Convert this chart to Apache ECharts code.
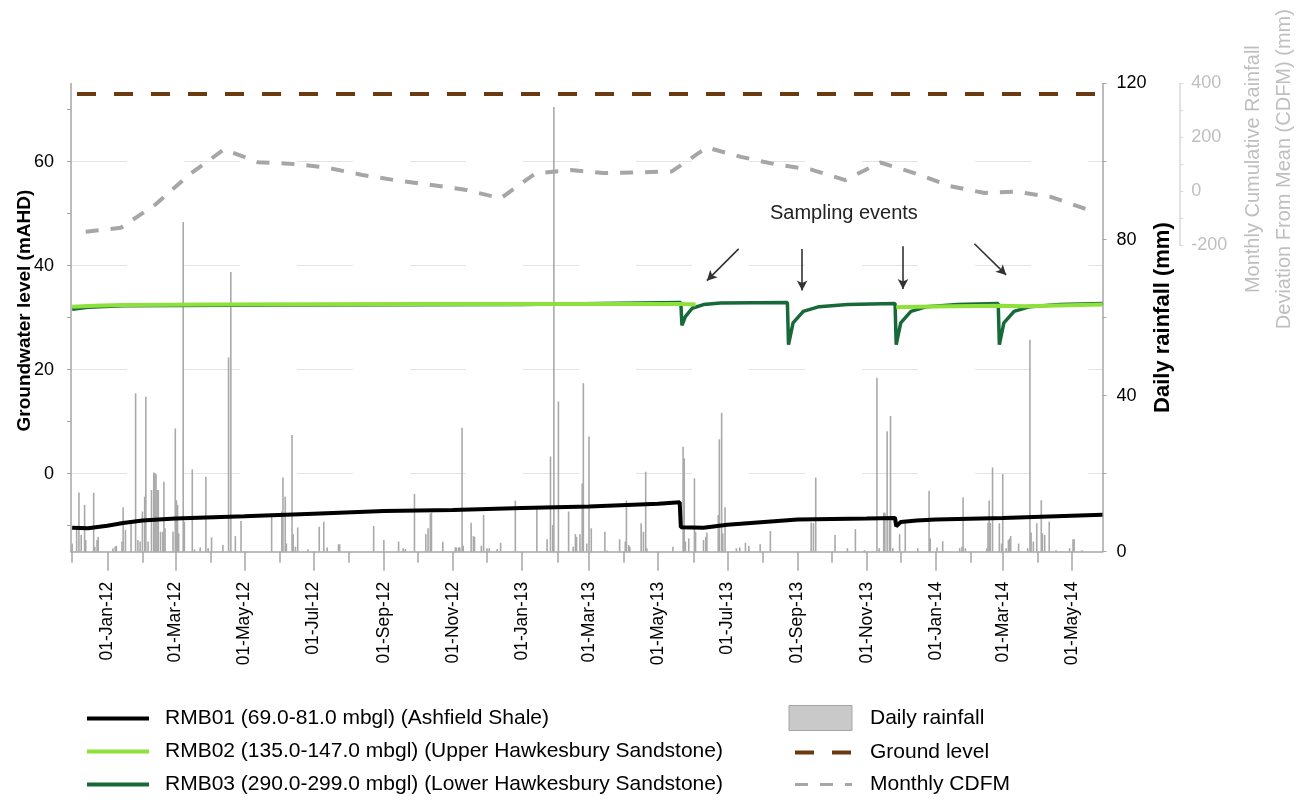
<!DOCTYPE html>
<html><head><meta charset="utf-8">
<script src="https://cdn.jsdelivr.net/npm/echarts@6/dist/echarts.min.js"></script>
<style>html,body{margin:0;padding:0;background:#fff}#c{width:1299px;height:801px}</style>
</head><body><div id="c"></div>
<script>
// ---------- data ----------
const axisStart = '2011-11-30';
const axisEnd = '2014-05-28';
const labelMonths = ['2012-01-01','2012-03-01','2012-05-01','2012-07-01','2012-09-01','2012-11-01','2013-01-01','2013-03-01','2013-05-01','2013-07-01','2013-09-01','2013-11-01','2014-01-01','2014-03-01','2014-05-01'];
const minorMonths = ['2011-12-01','2012-02-01','2012-04-01','2012-06-01','2012-08-01','2012-10-01','2012-12-01','2013-02-01','2013-04-01','2013-06-01','2013-08-01','2013-10-01','2013-12-01','2014-02-01','2014-04-01'];
const levelTicks = [-10,0,10,20,30,40,50,60,70];
const levelLabels = [0,20,40,60];
const levelGrid = [0,20,40,60];
const rainLabels = [0,40,80,120];
const cdfmLabels = [-200,0,200,400];

const rmb01 = [['2011-12-01',-10.4],['2011-12-15',-10.5],['2012-01-01',-10.0],['2012-01-15',-9.5],['2012-02-01',-9.0],['2012-03-01',-8.6],['2012-05-01',-8.2],['2012-07-01',-7.7],['2012-09-01',-7.2],['2012-11-01',-7.0],['2013-01-01',-6.6],['2013-03-01',-6.3],['2013-05-01',-5.8],['2013-05-20',-5.5],['2013-05-21',-10.3],['2013-06-10',-10.4],['2013-07-01',-9.8],['2013-09-01',-8.8],['2013-11-01',-8.6],['2013-11-26',-8.5],['2013-11-27',-10.1],['2013-12-01',-9.3],['2013-12-15',-9.0],['2014-01-01',-8.8],['2014-03-01',-8.5],['2014-05-28',-7.9]];

const rmb02 = [['2011-12-01',32.1],['2011-12-20',32.3],['2012-01-15',32.4],['2012-04-01',32.5],['2012-10-01',32.6],['2013-03-01',32.6],['2013-05-21',32.6],['2013-06-03',32.5],['2013-06-04',null],['2013-11-26',null],['2013-11-27',32.0],['2013-12-15',32.1],['2014-01-15',32.2],['2014-02-25',32.3],['2014-02-26',32.1],['2014-03-20',32.2],['2014-05-28',32.5]];

const rmb03 = [['2011-12-01',31.6],['2011-12-15',32.0],['2012-01-15',32.3],['2012-06-01',32.4],['2013-01-01',32.5],['2013-04-15',32.8],['2013-05-21',32.9],['2013-05-22',28.5],['2013-05-25',30.2],['2013-05-31',31.8],['2013-06-10',32.5],['2013-06-25',32.8],['2013-08-23',32.9],['2013-08-24',24.8],['2013-08-28',29.0],['2013-09-06',31.2],['2013-09-20',32.1],['2013-10-15',32.5],['2013-11-26',32.7],['2013-11-27',24.8],['2013-12-01',29.0],['2013-12-10',31.2],['2013-12-24',32.1],['2014-01-20',32.5],['2014-02-25',32.7],['2014-02-26',24.8],['2014-03-02',29.0],['2014-03-11',31.2],['2014-03-25',32.1],['2014-04-20',32.5],['2014-05-28',32.7]];

const groundLevel = [['2011-11-30',73.0],['2014-05-28',73.0]];

const cdfm = [['2011-12-13',-151],['2012-01-13',-136],['2012-02-13',-48],['2012-03-13',60],['2012-04-13',155],['2012-05-13',107],['2012-06-13',101],['2012-07-13',87],['2012-08-13',60],['2012-09-13',39],['2012-10-13',23],['2012-11-13',4],['2012-12-13',-27],['2013-01-13',66],['2013-02-13',78],['2013-03-13',67],['2013-04-13',69],['2013-05-13',73],['2013-06-13',162],['2013-07-13',127],['2013-08-13',99],['2013-09-13',80],['2013-10-13',41],['2013-11-13',106],['2013-12-13',67],['2014-01-13',19],['2014-02-13',-7],['2014-03-13',-2],['2014-04-13',-22],['2014-05-13',-66]];

const rainfall = [['2011-12-01',2.1],['2011-12-05',5.6],['2011-12-07',15.2],['2011-12-09',4.3],['2011-12-12',12.0],['2011-12-13',3.0],['2011-12-20',15.1],['2011-12-21',1.3],['2011-12-23',3.0],['2011-12-24',3.8],
['2012-01-06',0.9],['2012-01-08',1.3],['2012-01-09',1.5],['2012-01-14',2.6],['2012-01-15',11.4],['2012-01-17',5.6],['2012-01-22',7.3],['2012-01-26',40.6],['2012-01-28',3.0],['2012-01-30',2.6],
['2012-02-01',10.3],['2012-02-03',14.1],['2012-02-04',39.7],['2012-02-06',2.6],['2012-02-09',15.8],['2012-02-11',20.3],['2012-02-12',20.1],['2012-02-13',19.9],['2012-02-14',15.8],['2012-02-15',15.8],['2012-02-17',5.1],['2012-02-19',5.1],['2012-02-20',17.9],['2012-02-21',6.0],['2012-02-28',5.1],
['2012-03-01',31.6],['2012-03-02',13.2],['2012-03-03',12.0],['2012-03-04',4.7],['2012-03-08',84.5],['2012-03-09',7.7],['2012-03-16',21.1],['2012-03-18',0.6],['2012-03-23',1.1],['2012-03-28',19.2],['2012-03-30',0.9],
['2012-04-02',3.7],['2012-04-12',1.7],['2012-04-17',49.8],['2012-04-19',71.7],['2012-04-23',4.0],['2012-04-28',7.9],['2012-05-25',9.0],
['2012-06-03',10.3],['2012-06-04',19.0],['2012-06-06',14.1],['2012-06-07',2.1],['2012-06-12',29.9],['2012-06-13',4.5],['2012-06-15',1.3],['2012-06-17',6.2],['2012-06-26',0.6],
['2012-07-06',6.4],['2012-07-10',7.7],['2012-07-13',1.1],['2012-07-23',1.9],['2012-07-24',1.9],['2012-08-23',6.6],
['2012-09-01',3.0],['2012-09-14',2.6],['2012-09-18',0.9],['2012-09-20',0.7],['2012-09-28',14.8],
['2012-10-08',4.5],['2012-10-10',6.0],['2012-10-12',9.8],['2012-10-13',10.0],['2012-10-23',2.6],
['2012-11-03',1.1],['2012-11-04',1.1],['2012-11-06',1.1],['2012-11-07',1.1],['2012-11-09',31.8],['2012-11-10',1.5],['2012-11-17',7.4],['2012-11-19',4.0],['2012-11-20',3.8],['2012-11-26',1.5],['2012-11-28',9.4],
['2012-12-01',0.9],['2012-12-03',0.9],['2012-12-10',0.7],['2012-12-13',2.3],['2012-12-26',13.1],
['2013-01-14',11.1],['2013-01-23',3.2],['2013-01-26',24.4],['2013-01-28',6.8],['2013-01-29',114.0],
['2013-02-02',38.5],['2013-02-11',10.3],['2013-02-15',1.3],['2013-02-17',4.5],['2013-02-18',3.8],['2013-02-21',4.5],['2013-02-23',17.5],['2013-02-24',43.2],['2013-02-27',2.1],
['2013-03-01',29.5],['2013-03-03',6.0],['2013-03-15',5.1],['2013-03-17',0.3],['2013-03-28',3.2],
['2013-04-02',2.6],['2013-04-03',13.1],['2013-04-05',1.7],['2013-04-06',1.3],['2013-04-16',7.3],['2013-04-18',5.1],['2013-04-20',20.5],['2013-04-21',0.9],
['2013-05-14',1.3],['2013-05-23',26.9],['2013-05-24',23.9],['2013-05-25',2.6],['2013-05-28',3.4],
['2013-06-02',18.8],['2013-06-03',5.1],['2013-06-10',3.0],['2013-06-12',3.8],['2013-06-13',4.9],['2013-06-23',9.4],['2013-06-24',28.8],['2013-06-26',35.6],['2013-06-27',4.7],['2013-06-29',11.4],
['2013-07-09',0.9],['2013-07-12',1.1],['2013-07-17',2.3],['2013-07-20',1.5],['2013-07-30',1.9],['2013-08-08',5.3],
['2013-09-13',7.4],['2013-09-15',7.3],['2013-09-17',19.0],['2013-10-04',4.3],['2013-10-15',0.9],['2013-10-22',5.8],['2013-10-30',0.4],
['2013-11-10',44.6],['2013-11-12',0.9],['2013-11-16',10.0],['2013-11-17',10.0],['2013-11-19',30.9],['2013-11-21',8.1],['2013-11-22',34.8],['2013-11-24',0.9],['2013-11-30',4.5],
['2013-12-05',7.3],['2013-12-16',0.9],['2013-12-26',15.6],['2013-12-27',3.4],
['2014-01-02',1.1],['2014-01-07',2.7],['2014-01-22',0.9],['2014-01-24',1.3],['2014-01-25',13.9],['2014-01-27',0.9],
['2014-02-15',0.9],['2014-02-16',7.4],['2014-02-17',13.1],['2014-02-18',7.4],['2014-02-20',21.6],['2014-02-26',7.3],['2014-02-28',2.1],
['2014-03-01',19.9],['2014-03-04',0.9],['2014-03-06',3.0],['2014-03-07',3.4],['2014-03-08',4.0],['2014-03-15',2.1],['2014-03-23',0.9],['2014-03-25',54.3],['2014-03-26',4.9],['2014-03-28',2.6],['2014-03-31',7.3],
['2014-04-04',13.2],['2014-04-05',4.7],['2014-04-07',4.3],['2014-04-11',7.7],['2014-04-17',0.4],['2014-04-29',0.9],
['2014-05-02',3.2],['2014-05-03',3.2],['2014-05-10',0.4]];

// sampling-event annotation arrows: [fromDate, fromLevel, toDate, toLevel]
const samplingArrows = [['2013-07-11',43.2,'2013-06-13',37.1],['2013-09-05',43.2,'2013-09-05',35.2],['2013-12-03',43.7,'2013-12-03',35.5],['2014-02-04',44.2,'2014-03-04',38.2]];

// ---------- helpers ----------
const MON = ['Jan','Feb','Mar','Apr','May','Jun','Jul','Aug','Sep','Oct','Nov','Dec'];
function ts(s){ const p = s.split('-').map(Number); return Date.UTC(p[0], p[1]-1, p[2]); }
function pts(arr){ return arr.map(d => [ts(d[0]), d[1]]); }
function fmtDate(v){ const d = new Date(v); return String(d.getUTCDate()).padStart(2,'0') + '-' + MON[d.getUTCMonth()] + '-' + String(d.getUTCFullYear()).slice(2); }

const FONT = 'Liberation Sans, Arial, sans-serif';
const AX = '#a6a6a6';
const N1 = 'RMB01 (69.0-81.0 mbgl) (Ashfield Shale)';
const N2 = 'RMB02 (135.0-147.0 mbgl) (Upper Hawkesbury Sandstone)';
const N3 = 'RMB03 (290.0-299.0 mbgl) (Lower Hawkesbury Sandstone)';

const chart = echarts.init(document.getElementById('c'), null, {renderer:'canvas'});
const xmin = ts(axisStart), xmax = ts(axisEnd);

chart.setOption({
  animation: false,
  textStyle: {fontFamily: FONT},
  grid: [
    {left: 71, right: 196.5, top: 83.5, height: 468.2, containLabel:false, outerBoundsMode:'none'},
    {left: 71, right: 196.5, top: 83.3, height: 161.7, containLabel:false, outerBoundsMode:'none'}
  ],
  xAxis: [
    {type:'value', gridIndex:0, min:xmin, max:xmax, scale:true,
     axisLine:{show:true, onZero:false, lineStyle:{color:AX, width:1.5}},
     axisTick:{show:true, customValues: minorMonths.map(ts), length:11, lineStyle:{color:AX, width:1.5}},
     axisLabel:{show:false}, splitLine:{show:false}},
    {type:'value', gridIndex:0, min:xmin, max:xmax, scale:true, position:'bottom',
     axisLine:{show:false, onZero:false},
     axisTick:{show:true, customValues: labelMonths.map(ts), length:19, lineStyle:{color:AX, width:1.5}},
     axisLabel:{show:true, customValues: labelMonths.map(ts), rotate:90, margin:30, fontSize:17.5, color:'#000', fontFamily:FONT, formatter: fmtDate},
     splitLine:{show:false}},
    {type:'value', gridIndex:1, min:xmin, max:xmax, scale:true, show:false, axisLine:{onZero:false}}
  ],
  yAxis: [
    {type:'value', gridIndex:0, position:'left', min:-15, max:75,
     axisLine:{show:true, onZero:false, lineStyle:{color:AX, width:1.5}},
     axisTick:{show:true, customValues: levelTicks, length:4, lineStyle:{color:AX, width:1}},
     axisLabel:{customValues: levelLabels, margin:17, fontSize:18, color:'#000', fontFamily:FONT},
     splitLine:{show:false},
     name:'Groundwater level (mAHD)', nameLocation:'middle', nameGap:37, nameRotate:90, nameMoveOverlap:false,
     nameTextStyle:{fontWeight:'bold', fontSize:19, color:'#000', fontFamily:FONT, padding:[0,0,0,14]}},
    {type:'value', gridIndex:0, position:'right', min:0, max:120, interval:20,
     axisLine:{show:true, onZero:false, lineStyle:{color:AX, width:1.5}},
     axisTick:{show:true, length:4, lineStyle:{color:AX, width:1}},
     axisLabel:{customValues: rainLabels, margin:14, fontSize:18, color:'#000', fontFamily:FONT},
     splitLine:{show:false},
     name:'Daily rainfall (mm)', nameLocation:'middle', nameGap:49, nameRotate:90, nameMoveOverlap:false,
     nameTextStyle:{fontWeight:'bold', fontSize:22, color:'#000', fontFamily:FONT}},
    {type:'value', gridIndex:1, position:'right', offset:76.8, min:-200, max:400, interval:100,
     axisLine:{show:true, onZero:false, lineStyle:{color:'#d9d9d9', width:1.5}},
     axisTick:{show:true, length:4, lineStyle:{color:'#d9d9d9', width:1}},
     axisLabel:{customValues: cdfmLabels, margin:12, fontSize:18, color:'#bfbfbf', fontFamily:FONT},
     splitLine:{show:false},
     name:'Monthly Cumulative Rainfall\nDeviation From Mean (CDFM) (mm)', nameLocation:'middle', nameGap:59, nameRotate:90,
     nameTextStyle:{fontSize:20, color:'#bfbfbf', fontFamily:FONT, lineHeight:31, padding:[0,10,0,0]}}
  ],
  legend: [
    {data:[N1,N2,N3], orient:'vertical', left:85, top:708, padding:0, itemWidth:62, itemHeight:14, itemGap:12,
     selectedMode:false, itemStyle:{opacity:0}, lineStyle:{width:4},
     textStyle:{fontSize:21, color:'#000', fontFamily:FONT, padding:[0,0,0,11]}},
    {data:[{name:'Daily rainfall', icon:'rect', itemStyle:{color:'#c9c9c9', borderColor:'#a6a6a6', borderWidth:1, opacity:1}}, {name:'Ground level'}, {name:'Monthly CDFM', lineStyle:{width:3}}],
     orient:'vertical', left:787, top:705, padding:0, itemWidth:63, itemHeight:25, itemGap:11,
     selectedMode:false, itemStyle:{opacity:0}, lineStyle:{width:4},
     textStyle:{fontSize:21, color:'#000', fontFamily:FONT, padding:[0,0,0,13]}}
  ],
  graphic: [
    {type:'text', left:770, top:203, style:{text:'Sampling events', fontSize:20, fill:'#222', fontFamily:FONT}}
  ],
  series: [
    {name:'Daily rainfall', type:'bar', xAxisIndex:0, yAxisIndex:1, barWidth:1.6, z:1,
     itemStyle:{color:'#a9a9a9'}, data: pts(rainfall)},
    {name:'Monthly CDFM', type:'line', xAxisIndex:2, yAxisIndex:2, symbol:'none', z:2,
     itemStyle:{color:'#a6a6a6'},
     lineStyle:{color:'#a6a6a6', width:4, type:[13,12]}, data: pts(cdfm)},
    {name:'Ground level', type:'line', xAxisIndex:0, yAxisIndex:0, symbol:'none', z:2,
     itemStyle:{color:'#6b3a10'},
     lineStyle:{color:'#6b3a10', width:4, type:[19,18], dashOffset:-6}, data: pts(groundLevel),
     markLine:{silent:true, symbol:'none', label:{show:false}, z:0,
       lineStyle:{color:'#e3e3e3', width:1, type:[56,57]},
       data: levelGrid.map(v => ({yAxis:v}))}},
    {name:N1, type:'line', xAxisIndex:0, yAxisIndex:0, symbol:'none', z:4,
     lineStyle:{color:'#000', width:4}, itemStyle:{color:'#000'}, data: pts(rmb01),
     markLine:{silent:true, symbol:['none','arrow'], symbolSize:[8,10], label:{show:false},
       lineStyle:{color:'#333', width:1.6, type:'solid'},
       data: samplingArrows.map(a => [{coord:[ts(a[0]), a[1]]}, {coord:[ts(a[2]), a[3]]}])}},
    {name:N3, type:'line', xAxisIndex:0, yAxisIndex:0, symbol:'none', z:4,
     lineStyle:{color:'#17693a', width:3.5}, itemStyle:{color:'#17693a'}, data: pts(rmb03)},
    {name:N2, type:'line', xAxisIndex:0, yAxisIndex:0, symbol:'none', z:5, connectNulls:false,
     lineStyle:{color:'#8ee03a', width:4}, itemStyle:{color:'#8ee03a'}, data: pts(rmb02)}
  ]
});
</script>
</body></html>
